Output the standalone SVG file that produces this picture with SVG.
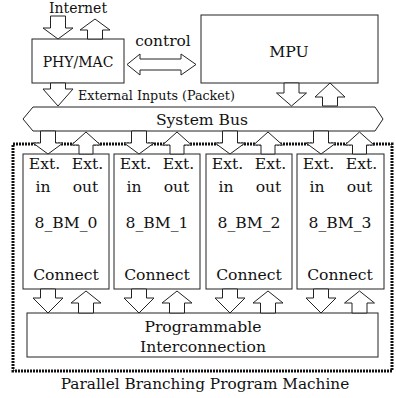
<svg xmlns="http://www.w3.org/2000/svg" width="396" height="398" viewBox="0 0 396 398">
  <style>
    .box { fill: #fff; stroke: #222; stroke-width: 1; }
    .arr { fill: #fff; stroke: #222; stroke-width: 1; stroke-linejoin: miter; }
    .dot { fill: none; stroke: #111; stroke-width: 3; stroke-dasharray: 2 1; }
    .lbl { font-family: "DejaVu Serif", "Liberation Serif", serif; fill: #111; text-anchor: middle; font-size: 15.6px; }
    .left { text-anchor: start; }
  </style>
  <rect width="396" height="398" fill="#fff"/>

  <!-- machine boundary -->
  <rect id="pbpm-frame" class="dot" x="13" y="144" width="379" height="227"/>

  <g id="phy-mac">
    <rect class="box" x="32" y="39" width="92" height="44"/>
    <text class="lbl" x="78" y="67" font-size="14" style="font-size:14px">PHY/MAC</text>
  </g>
  <g id="mpu">
    <rect class="box" x="201" y="15" width="177" height="68"/>
    <text class="lbl" x="289" y="57" style="font-size:15.7px">MPU</text>
  </g>
  <g id="system-bus">
    <polygon class="box" points="23,119 33,107 375,107 383,119 375,131 33,131"/>
    <text class="lbl" x="202" y="125">System Bus</text>
  </g>

  <g id="bm0">
    <rect class="box" x="23" y="154" width="86" height="135"/>
    <text class="lbl" x="44.5" y="169">Ext.</text><text class="lbl" x="87.5" y="169">Ext.</text>
    <text class="lbl" x="43" y="192">in</text><text class="lbl" x="85.5" y="192">out</text>
    <text class="lbl" x="66" y="228">8_BM_0</text>
    <text class="lbl" x="66" y="280">Connect</text>
  </g>
  <g id="bm1">
    <rect class="box" x="114" y="154" width="86" height="135"/>
    <text class="lbl" x="135.5" y="169">Ext.</text><text class="lbl" x="178.5" y="169">Ext.</text>
    <text class="lbl" x="134" y="192">in</text><text class="lbl" x="176.5" y="192">out</text>
    <text class="lbl" x="157" y="228">8_BM_1</text>
    <text class="lbl" x="157" y="280">Connect</text>
  </g>
  <g id="bm2">
    <rect class="box" x="206" y="154" width="86" height="135"/>
    <text class="lbl" x="227.5" y="169">Ext.</text><text class="lbl" x="270.5" y="169">Ext.</text>
    <text class="lbl" x="226" y="192">in</text><text class="lbl" x="268.5" y="192">out</text>
    <text class="lbl" x="249" y="228">8_BM_2</text>
    <text class="lbl" x="249" y="280">Connect</text>
  </g>
  <g id="bm3">
    <rect class="box" x="297" y="154" width="87" height="135"/>
    <text class="lbl" x="318.5" y="169">Ext.</text><text class="lbl" x="361.5" y="169">Ext.</text>
    <text class="lbl" x="317" y="192">in</text><text class="lbl" x="359.5" y="192">out</text>
    <text class="lbl" x="340" y="228">8_BM_3</text>
    <text class="lbl" x="340" y="280">Connect</text>
  </g>

  <g id="interconnect">
    <rect class="box" x="27" y="313" width="351" height="44"/>
    <text class="lbl" x="203" y="332">Programmable</text>
    <text class="lbl" x="203" y="352">Interconnection</text>
  </g>

  <g id="labels">
    <text class="lbl" x="78" y="13" style="font-size:14px">Internet</text>
    <text class="lbl" x="163" y="46" style="font-size:15.4px">control</text>
    <text class="lbl left" x="78" y="100" style="font-size:12.7px">External Inputs (Packet)</text>
    <text class="lbl" x="205" y="389" style="font-size:15.3px">Parallel Branching Program Machine</text>
  </g>

  <g id="connectors">
    <!-- Internet in / out -->
    <polygon class="arr" points="50.5,16 65.5,16 65.5,28 73,28 58,39 43,28 50.5,28"/>
    <polygon class="arr" points="95,19 110,30 102.5,30 102.5,39 87.5,39 87.5,30 80,30"/>
    <!-- control link -->
    <polygon class="arr" points="127,64.5 140,54 140,59 181,59 181,54 196,64.5 181,75 181,70 140,70 140,75"/>
    <!-- external inputs to bus -->
    <polygon class="arr" points="50.5,83 65.5,83 65.5,89 73,89 58,106 43,89 50.5,89"/>
    <!-- MPU to / from bus -->
    <polygon class="arr" points="284,83 299,83 299,93 306.5,93 291.5,106 276.5,93 284,93"/>
    <polygon class="arr" points="330,83 345,97 337.5,97 337.5,106 322.5,106 322.5,97 315,97"/>

    <!-- bus to BM blocks -->
    <polygon class="arr" points="40.5,131 55.5,131 55.5,143 63,143 48,154 33,143 40.5,143"/>
    <polygon class="arr" points="86,132 100.5,145 93,145 93,154 79,154 79,145 71.5,145"/>
    <polygon class="arr" points="131.5,131 146.5,131 146.5,143 154,143 139,154 124,143 131.5,143"/>
    <polygon class="arr" points="177,132 191.5,145 184,145 184,154 170,154 170,145 162.5,145"/>
    <polygon class="arr" points="222.5,131 237.5,131 237.5,143 245,143 230,154 215,143 222.5,143"/>
    <polygon class="arr" points="268,132 282.5,145 275,145 275,154 261,154 261,145 253.5,145"/>
    <polygon class="arr" points="313.5,131 328.5,131 328.5,143 336,143 321,154 306,143 313.5,143"/>
    <polygon class="arr" points="359.5,132 374,145 366.5,145 366.5,154 352.5,154 352.5,145 345,145"/>

    <!-- BM blocks to interconnection -->
    <polygon class="arr" points="40.5,289 55.5,289 55.5,298 63,298 48,313 33,298 40.5,298"/>
    <polygon class="arr" points="86,291 101,303 93.5,303 93.5,313 78.5,313 78.5,303 71,303"/>
    <polygon class="arr" points="131.5,289 146.5,289 146.5,298 154,298 139,313 124,298 131.5,298"/>
    <polygon class="arr" points="177,291 192,303 184.5,303 184.5,313 169.5,313 169.5,303 162,303"/>
    <polygon class="arr" points="222.5,289 237.5,289 237.5,298 245,298 230,313 215,298 222.5,298"/>
    <polygon class="arr" points="268,291 283,303 275.5,303 275.5,313 260.5,313 260.5,303 253,303"/>
    <polygon class="arr" points="313.5,289 328.5,289 328.5,298 336,298 321,313 306,298 313.5,298"/>
    <polygon class="arr" points="359.5,291 374.5,303 367,303 367,313 352,313 352,303 344.5,303"/>
  </g>
</svg>
